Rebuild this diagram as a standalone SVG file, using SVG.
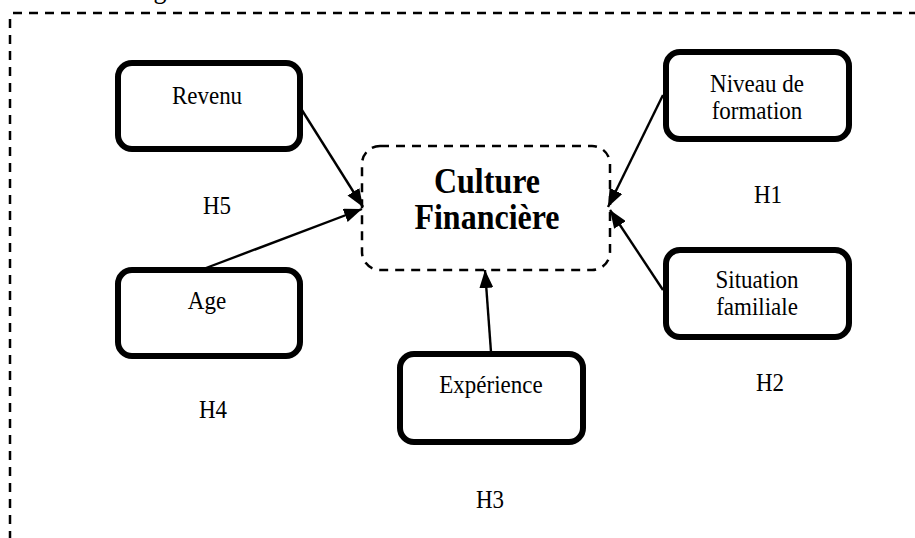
<svg xmlns="http://www.w3.org/2000/svg" width="915" height="538" viewBox="0 0 915 538">
<defs>
<marker id="ah" viewBox="0 0 10 10" refX="10" refY="5" markerWidth="18" markerHeight="14" markerUnits="userSpaceOnUse" orient="auto" preserveAspectRatio="none">
<path d="M0,0 L10,5 L0,10 z" fill="#000"/>
</marker>
</defs>
<style>
.box{fill:#fff;stroke:#000;stroke-width:6}
.lbl{font-family:"Liberation Serif","Times New Roman",serif;font-size:23px;fill:#000;text-anchor:middle}
.main{font-family:"Liberation Serif","Times New Roman",serif;font-size:32px;font-weight:bold;fill:#000;text-anchor:middle}
.dash{fill:none;stroke:#000;stroke-width:2.5;stroke-dasharray:9,7}
.conn{stroke:#000;stroke-width:2.4;fill:none}
</style>
<rect width="915" height="538" fill="#fff"/>
<text class="lbl" transform="translate(160,-2) scale(1,1.14)" style="font-size:26px">g</text>
<path class="dash" d="M13,13 H915"/>
<path class="dash" d="M10,19 V538"/>
<g id="connectors">
<line class="conn" x1="300" y1="107" x2="363" y2="207" marker-end="url(#ah)"/>
<line class="conn" x1="206" y1="268" x2="362" y2="209" marker-end="url(#ah)"/>
<line class="conn" x1="663" y1="95" x2="608" y2="207" marker-end="url(#ah)"/>
<line class="conn" x1="663" y1="290" x2="610" y2="210" marker-end="url(#ah)"/>
<line class="conn" x1="491" y1="352" x2="485" y2="270" marker-end="url(#ah)"/>
</g>
<g id="culture">
<rect class="dash" x="362" y="146" width="248" height="124" rx="18"/>
<text class="main" transform="translate(487,193) scale(1,1.1)">Culture</text>
<text class="main" transform="translate(487,229) scale(1,1.1)">Financière</text>
</g>
<g id="revenu">
<rect class="box" x="118" y="63" width="182" height="86" rx="14"/>
<text class="lbl" transform="translate(207,104) scale(1,1.14)">Revenu</text>
</g>
<g id="age">
<rect class="box" x="118" y="270" width="182" height="86" rx="14"/>
<text class="lbl" transform="translate(207,309) scale(1,1.14)">Age</text>
</g>
<g id="experience">
<rect class="box" x="400" y="354" width="183" height="88" rx="14"/>
<text class="lbl" transform="translate(491,393) scale(1,1.14)">Expérience</text>
</g>
<g id="niveau">
<rect class="box" x="666" y="52" width="183" height="87" rx="14"/>
<text class="lbl" transform="translate(757,92) scale(1,1.14)">Niveau de</text>
<text class="lbl" transform="translate(757,119) scale(1,1.14)">formation</text>
</g>
<g id="situation">
<rect class="box" x="666" y="250" width="183" height="87" rx="14"/>
<text class="lbl" transform="translate(757,288) scale(1,1.14)">Situation</text>
<text class="lbl" transform="translate(757,315) scale(1,1.14)">familiale</text>
</g>
<g id="hypotheses">
<text class="lbl" transform="translate(217,214) scale(1,1.14)">H5</text>
<text class="lbl" transform="translate(768,203) scale(1,1.14)">H1</text>
<text class="lbl" transform="translate(213,418) scale(1,1.14)">H4</text>
<text class="lbl" transform="translate(770,391) scale(1,1.14)">H2</text>
<text class="lbl" transform="translate(490,508) scale(1,1.14)">H3</text>
</g>
</svg>
